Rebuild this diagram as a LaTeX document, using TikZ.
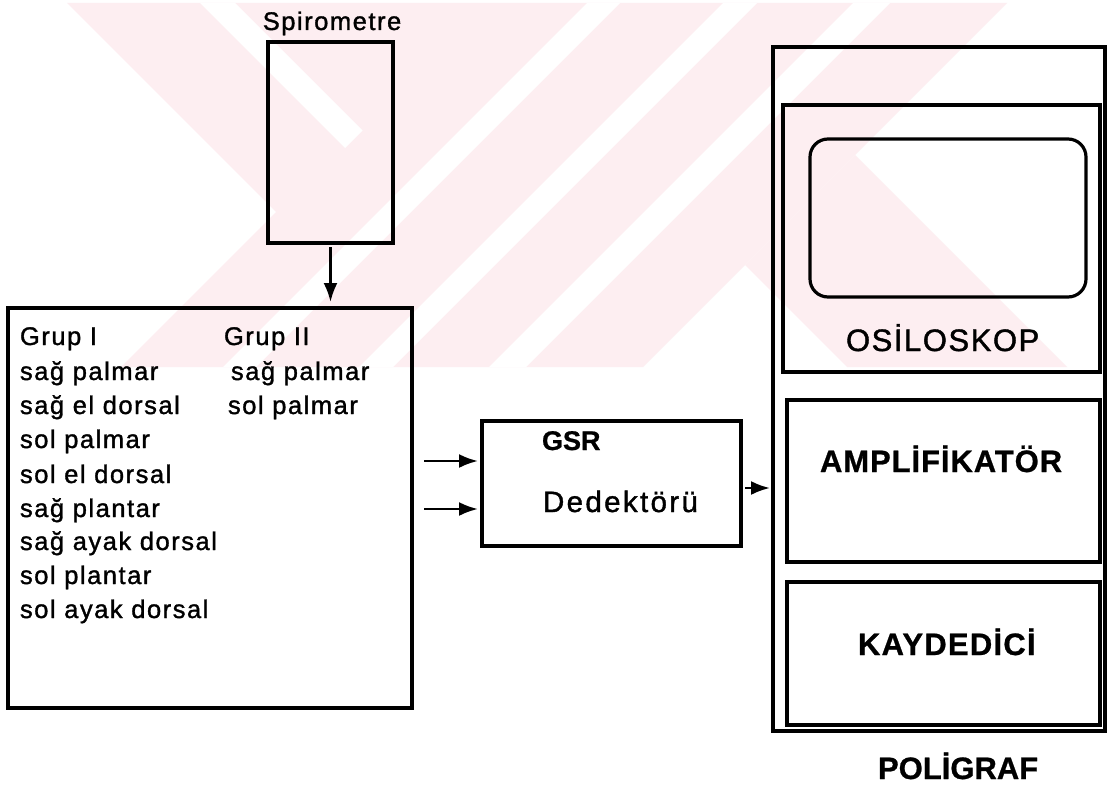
\documentclass[tikz,border=0pt]{standalone}
\usepackage{fontspec}
\setmainfont{Liberation Sans}
\newfontfamily\listfont[LetterSpace=6,FakeBold=1.3]{Liberation Sans}
\newfontfamily\labfont[FakeBold=1.3]{Liberation Sans}
\newfontfamily\heavyfont[FakeBold=0.8]{Liberation Sans}
\newcommand\track[1]{\addfontfeatures{LetterSpace=#1}}
\usetikzlibrary{arrows.meta}
\definecolor{markpink}{RGB}{253,238,241}

\begin{document}
\begin{tikzpicture}[x=1pt,y=-1pt,
  box/.style={draw, line width=3.2pt, inner sep=0pt, outer sep=0pt, anchor=north west},
  conn/.style={line width=2.6pt, -{Latex[length=19pt,width=14pt]}},
  lbl/.style={anchor=base west, inner sep=0pt, outer sep=0pt},
  listtxt/.style={lbl, font=\listfont\fontsize{25.5}{30}\selectfont},
  captxt/.style={lbl, font=\labfont\fontsize{29}{34}\selectfont},
  boldtxt/.style={lbl, font=\heavyfont\bfseries\fontsize{30}{34}\selectfont}]

\useasboundingbox (0,0) rectangle (1110,784);
\fill[white] (0,0) rectangle (1110,784);

% faint background emblem
\fill[markpink] (67,3) -- (1007,3) -- (643,367) -- (121,367) -- (276,212) -- cycle;
\fill[white] (200,3) -- (235,3) -- (362.5,130.5) -- (345,148) -- cycle;
\fill[white] (587,3) -- (620,3) -- (256,367) -- (223,367) -- cycle;
\fill[white] (723,3) -- (757,3) -- (393,367) -- (359,367) -- cycle;
\fill[white] (853,3) -- (890,3) -- (526,367) -- (489,367) -- cycle;
\fill[markpink] (855,155) -- (745,265) -- (847,367) -- (1067,367) -- cycle;

% spirometer
\node[box, minimum width=125pt, minimum height=201pt] (spiro) at (268,42) {};
\node[listtxt, anchor=base] (spirolbl) at (332,30) {Spirometre};

% electrode sites
\node[box, minimum width=404pt, minimum height=400pt] (grup) at (8,308) {};
\node[listtxt] (g1) at (20,345) {Grup I};
\node[listtxt] (g1a) at (20,380) {sağ palmar};
\node[listtxt] (g1b) at (20,414) {sağ el dorsal};
\node[listtxt] (g1c) at (20,448) {sol palmar};
\node[listtxt] (g1d) at (20,483) {sol el dorsal};
\node[listtxt] (g1e) at (20,517) {sağ plantar};
\node[listtxt] (g1f) at (20,550) {sağ ayak dorsal};
\node[listtxt] (g1g) at (20,584) {sol plantar};
\node[listtxt] (g1h) at (20,618) {sol ayak dorsal};
\node[listtxt] (g2) at (224,345) {Grup II};
\node[listtxt] (g2a) at (231,380) {sağ palmar};
\node[listtxt] (g2b) at (228,414) {sol palmar};

% GSR detector
\node[box, minimum width=259pt, minimum height=125pt] (gsr) at (482,421) {};
\node[lbl, font=\heavyfont\bfseries\fontsize{27}{32}\selectfont] (gsrlbl) at (542,450) {GSR};
\node[lbl, font=\labfont\fontsize{29.5}{32}\selectfont\track{8}] (detlbl) at (543,512) {Dedektörü};

% polygraph
\node[box, minimum width=332pt, minimum height=684pt] (poli) at (773,47) {};
\node[box, minimum width=317pt, minimum height=267pt] (osc) at (783,105) {};
\node[box, minimum width=276pt, minimum height=158pt, rounded corners=18pt] (screen) at (810,139) {};
\node[captxt, font=\labfont\fontsize{31}{34}\selectfont\track{5}] (osclbl) at (846,351) {OSİLOSKOP};
\node[box, minimum width=313pt, minimum height=162pt] (amp) at (787,400) {};
\node[boldtxt, font=\heavyfont\bfseries\fontsize{31}{34}\selectfont\track{3}] (amplbl) at (820,472) {AMPLİFİKATÖR};
\node[box, minimum width=313pt, minimum height=143pt] (kay) at (787,582) {};
\node[boldtxt, font=\heavyfont\bfseries\fontsize{31}{34}\selectfont\track{4}] (kaylbl) at (858,655) {KAYDEDİCİ};
\node[boldtxt, font=\heavyfont\bfseries\fontsize{31}{34}\selectfont] (polilbl) at (878,779) {POLİGRAF};

% connectors
\draw[conn, shorten <=4pt, shorten >=6pt] (spiro.south) -- (spiro.south |- grup.north);
\coordinate (in1) at (424,461);
\coordinate (in2) at (424,509);
\draw[conn, shorten >=4pt] (in1) -- (in1 -| gsr.west);
\draw[conn, shorten >=4pt] (in2) -- (in2 -| gsr.west);
\draw[conn, shorten <=4pt, shorten >=3pt] ([yshift=-4.5pt]gsr.east) -- ([yshift=-4.5pt]gsr.east -| poli.west);
\end{tikzpicture}
\end{document}
